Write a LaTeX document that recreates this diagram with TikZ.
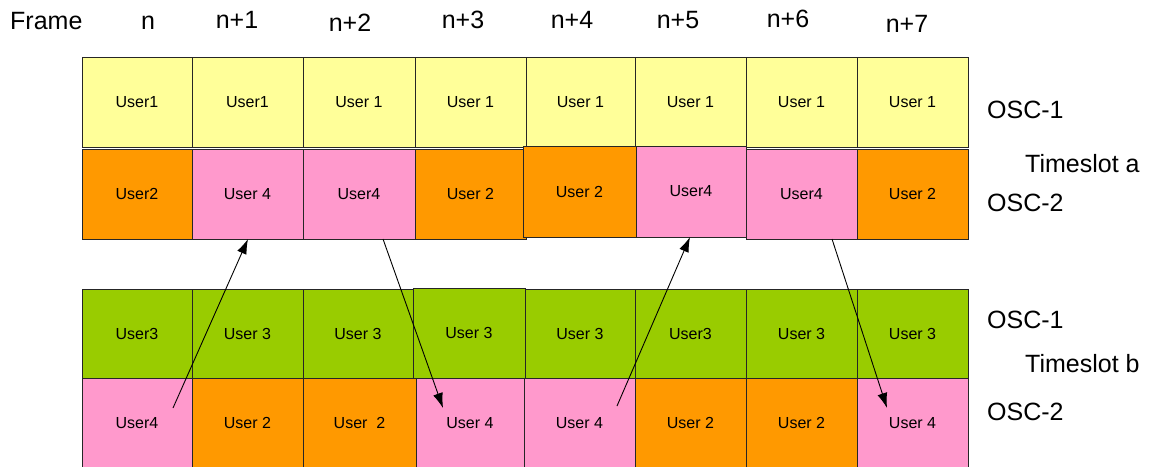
\documentclass[tikz,border=0pt]{standalone}
\usepackage{fontspec}
\setmainfont{Liberation Sans}
\usetikzlibrary{arrows.meta}
\definecolor{cyel}{HTML}{FFFF99}
\definecolor{corg}{HTML}{FF9900}
\definecolor{cpnk}{HTML}{FF99CC}
\definecolor{cgrn}{HTML}{99CC00}
\newcommand\cellbox[7]{%
  \node[cellstyle, fill=#5, minimum width={(#3-#1)*1pt}, minimum height={(#4-#2)*1pt}]
    (#6) at ({(#1+#3)/2},{(#2+#4)/2}) {#7};}
\begin{document}
\begin{tikzpicture}[x=1pt,y=-1pt,
  cellstyle/.style={draw=black!85, line width=0.7pt, inner sep=0pt, outer sep=0pt,
    font=\fontsize{16}{19}\selectfont},
  head/.style={anchor=base, font=\fontsize{25}{29}\selectfont, inner sep=0pt},
  side/.style={anchor=base west, font=\fontsize{25}{29}\selectfont, inner sep=0pt},
  conn/.style={line width=0.9pt, -{Latex[length=15pt,width=10pt]}}]
\useasboundingbox (0,0) rectangle (1153,466);
% headers
\node[head, anchor=base west] (hframe) at (10,29) {Frame};
\node[head] (h0) at (148,29) {n};
\node[head] (h1) at (237,28) {n+1};
\node[head] (h2) at (350,31) {n+2};
\node[head] (h3) at (463,28) {n+3};
\node[head] (h4) at (572,28) {n+4};
\node[head] (h5) at (678,28) {n+5};
\node[head] (h6) at (788,27) {n+6};
\node[head] (h7) at (907,32) {n+7};
% row 1
\cellbox{82}{57}{192}{147}{cyel}{a0}{User1}
\cellbox{192}{57}{303}{147}{cyel}{a1}{User1}
\cellbox{303}{57}{415}{147}{cyel}{a2}{User 1}
\cellbox{415}{57}{526}{147}{cyel}{a3}{User 1}
\cellbox{526}{57}{635}{147}{cyel}{a4}{User 1}
\cellbox{635}{57}{746}{147}{cyel}{a5}{User 1}
\cellbox{746}{57}{857}{147}{cyel}{a6}{User 1}
\cellbox{857}{57}{968}{147}{cyel}{a7}{User 1}
% row 2
\cellbox{82}{149}{192}{239}{corg}{b0}{User2}
\cellbox{192}{149}{303}{239}{cpnk}{b1}{User 4}
\cellbox{303}{149}{415}{239}{cpnk}{b2}{User4}
\cellbox{415}{149}{526}{239}{corg}{b3}{User 2}
\cellbox{523}{146}{636}{237}{corg}{b4}{User 2}
\cellbox{636}{146}{746}{237}{cpnk}{b5}{User4}
\cellbox{746}{149}{857}{239}{cpnk}{b6}{User4}
\cellbox{857}{149}{968}{239}{corg}{b7}{User 2}
% row 3
\cellbox{82}{289}{192}{378}{cgrn}{c0}{User3}
\cellbox{192}{289}{303}{378}{cgrn}{c1}{User 3}
\cellbox{303}{289}{413}{378}{cgrn}{c2}{User 3}
\cellbox{413}{288}{525}{378}{cgrn}{c3}{User 3}
\cellbox{525}{289}{635}{378}{cgrn}{c4}{User 3}
\cellbox{635}{289}{746}{378}{cgrn}{c5}{User3}
\cellbox{746}{289}{857}{378}{cgrn}{c6}{User 3}
\cellbox{857}{289}{968}{378}{cgrn}{c7}{User 3}
% row 4
\cellbox{82}{378}{192}{468}{cpnk}{d0}{User4}
\cellbox{192}{378}{303}{468}{corg}{d1}{User 2}
\cellbox{303}{378}{416}{468}{corg}{d2}{User\ \ 2}
\cellbox{416}{378}{524}{468}{cpnk}{d3}{User 4}
\cellbox{524}{378}{635}{468}{cpnk}{d4}{User 4}
\cellbox{635}{378}{746}{468}{corg}{d5}{User 2}
\cellbox{746}{378}{857}{468}{corg}{d6}{User 2}
\cellbox{857}{378}{968}{468}{cpnk}{d7}{User 4}
% side labels
\node[side] (o1a) at (987,118) {OSC-1};
\node[side] (tsa) at (1025,172) {Timeslot a};
\node[side] (o2a) at (987,211) {OSC-2};
\node[side] (o1b) at (987,328) {OSC-1};
\node[side] (tsb) at (1025,372) {Timeslot b};
\node[side] (o2b) at (987,420) {OSC-2};
% arrows
\coordinate (p1s) at (173,408); \coordinate (p1e) at (248,239);
\coordinate (p2s) at (383,239); \coordinate (p2e) at (443,408);
\coordinate (p3s) at (617,406); \coordinate (p3e) at (690,237);
\coordinate (p4s) at (832,239); \coordinate (p4e) at (887,408);
\draw[conn] (p1s) -- (p1e);
\draw[conn] (p2s) -- (p2e);
\draw[conn] (p3s) -- (p3e);
\draw[conn] (p4s) -- (p4e);
\end{tikzpicture}
\end{document}
